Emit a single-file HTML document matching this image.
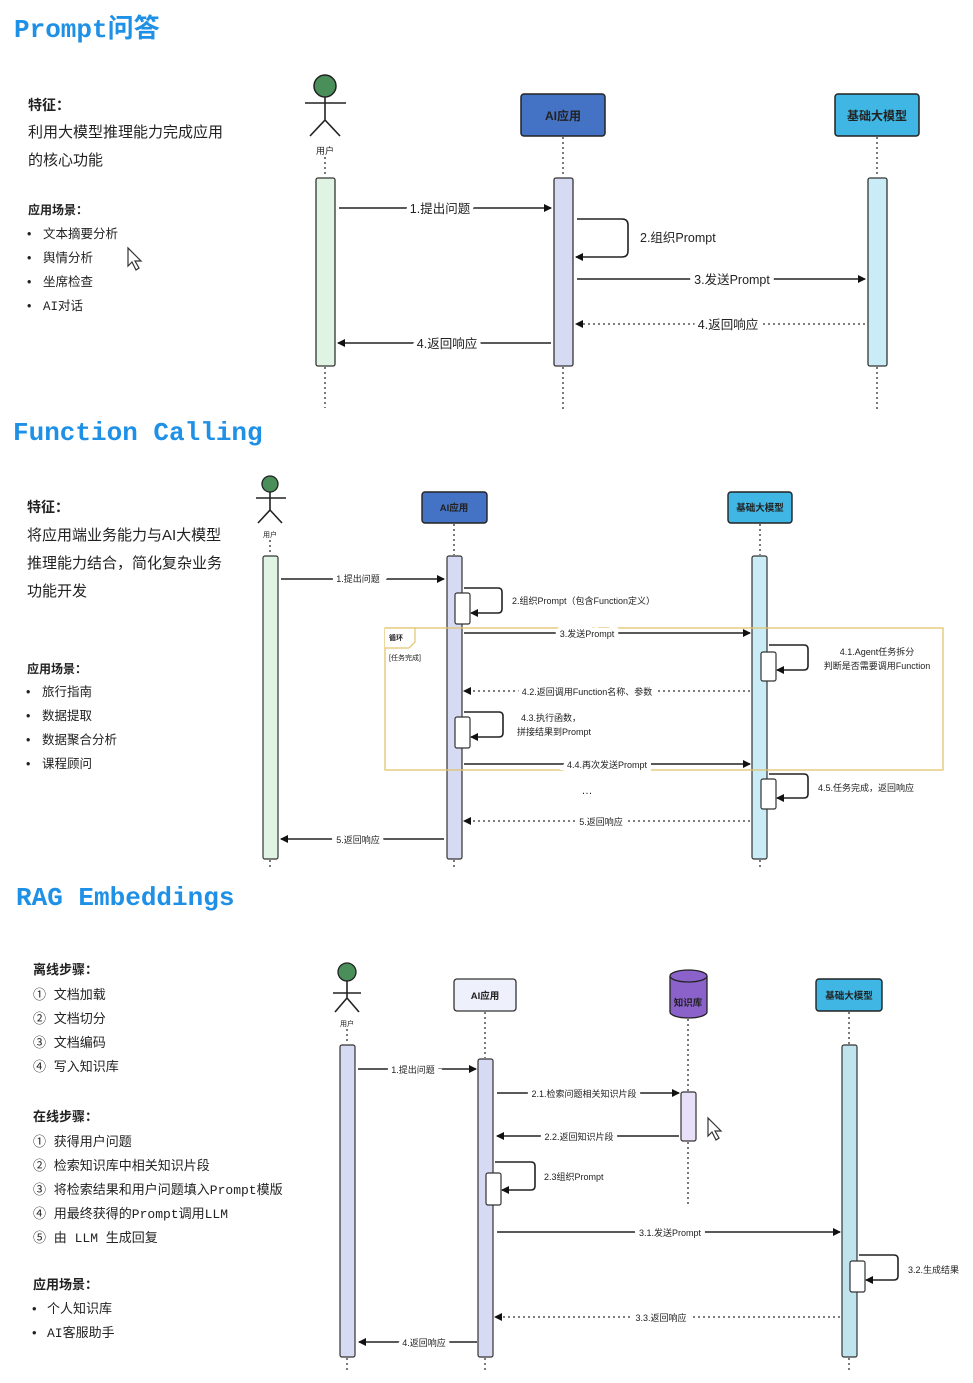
<!DOCTYPE html>
<html><head><meta charset="utf-8"><style>
html,body{margin:0;padding:0;background:#fff;}
svg{display:block;}
text{font-family:"Liberation Sans","Noto Sans CJK SC",sans-serif;fill:#222;}
.t{font-family:"Liberation Mono","Noto Sans CJK SC",monospace;font-weight:bold;fill:#1e90e6;font-size:26px;}
.m{font-family:"Liberation Mono","Noto Sans CJK SC",monospace;}
.lb{paint-order:stroke;stroke:#fff;stroke-width:8px;}
.ln{stroke:#222;stroke-width:1.6;fill:none;}
.dl{stroke:#333;stroke-width:1.3;fill:none;stroke-dasharray:2 3;}
</style></head><body>
<svg width="973" height="1383" viewBox="0 0 973 1383" xmlns="http://www.w3.org/2000/svg">
<defs>
<marker id="a" markerWidth="8" markerHeight="8" refX="7" refY="4" orient="auto" markerUnits="userSpaceOnUse"><path d="M0,0 L8,4 L0,8 z" fill="#111"/></marker>
</defs>

<!-- ===== Section 1 ===== -->
<text class="t" x="14" y="37">Prompt问答</text>
<text x="28" y="110" font-size="14" font-weight="bold">特征：</text>
<text x="28" y="137" font-size="15">利用大模型推理能力完成应用</text>
<text x="28" y="165" font-size="15">的核心功能</text>
<text x="28" y="214" font-size="12" font-weight="bold">应用场景：</text>
<g font-size="12.5">
<text x="27" y="238">•</text><text x="43" y="238">文本摘要分析</text>
<text x="27" y="262">•</text><text x="43" y="262">舆情分析</text>
<text x="27" y="286">•</text><text x="43" y="286">坐席检查</text>
<text x="27" y="310">•</text><text x="43" y="310" class="m">AI对话</text>
</g>
<path d="M128,248 L128,266 L132,262 L136,270 L139,268 L135,261 L141,261 z" fill="#fff" stroke="#333" stroke-width="1.2"/>

<circle cx="325" cy="86" r="11" fill="#4a8f5a" stroke="#222" stroke-width="1.5"/>
<path class="ln" d="M305,103 H346 M325,97 V120 L310,136 M325,120 L340,136"/>
<text x="325" y="154" font-size="9" text-anchor="middle" fill="#444">用户</text>
<path class="dl" d="M325,157 V177 M325,367 V408"/>
<rect x="316" y="178" width="19" height="188" rx="2" fill="#e0f4e4" stroke="#333" stroke-width="1.3"/>

<rect x="521" y="94" width="84" height="42" rx="3" fill="#4472c4" stroke="#222" stroke-width="1.5"/>
<text x="563" y="120" font-size="12" font-weight="bold" text-anchor="middle" fill="#fff">AI应用</text>
<path class="dl" d="M563,137 V177 M563,367 V410"/>
<rect x="554" y="178" width="19" height="188" rx="2" fill="#d6daf2" stroke="#333" stroke-width="1.3"/>

<rect x="835" y="94" width="84" height="42" rx="3" fill="#3fb6e3" stroke="#222" stroke-width="1.5"/>
<text x="877" y="120" font-size="12" font-weight="bold" text-anchor="middle" fill="#fff">基础大模型</text>
<path class="dl" d="M877,137 V177 M877,367 V410"/>
<rect x="868" y="178" width="19" height="188" rx="2" fill="#c9ecf6" stroke="#333" stroke-width="1.3"/>

<path class="ln" d="M339,208 H551" marker-end="url(#a)"/>
<text class="lb" x="440" y="213" font-size="12.5" text-anchor="middle">1.提出问题</text>
<path class="ln" d="M577,219 H622 Q628,219 628,225 V251 Q628,257 622,257 H576" marker-end="url(#a)"/>
<text x="640" y="242" font-size="12.5">2.组织Prompt</text>
<path class="ln" d="M577,279 H865" marker-end="url(#a)"/>
<text class="lb" x="732" y="284" font-size="12.5" text-anchor="middle">3.发送Prompt</text>
<path class="dl" d="M865,324 H576" marker-end="url(#a)" stroke="#111"/>
<text class="lb" x="728" y="329" font-size="12.5" text-anchor="middle">4.返回响应</text>
<path class="ln" d="M551,343 H338" marker-end="url(#a)"/>
<text class="lb" x="447" y="348" font-size="12.5" text-anchor="middle">4.返回响应</text>

<!-- ===== Section 2 ===== -->
<text class="t" x="13" y="440">Function Calling</text>
<text x="27" y="512" font-size="14" font-weight="bold">特征：</text>
<text x="27" y="540" font-size="15">将应用端业务能力与AI大模型</text>
<text x="27" y="568" font-size="15">推理能力结合，简化复杂业务</text>
<text x="27" y="596" font-size="15">功能开发</text>
<text x="27" y="673" font-size="12" font-weight="bold">应用场景：</text>
<g font-size="12.5">
<text x="26" y="696">•</text><text x="42" y="696">旅行指南</text>
<text x="26" y="720">•</text><text x="42" y="720">数据提取</text>
<text x="26" y="744">•</text><text x="42" y="744">数据聚合分析</text>
<text x="26" y="768">•</text><text x="42" y="768">课程顾问</text>
</g>

<circle cx="270" cy="484" r="8" fill="#4a8f5a" stroke="#222" stroke-width="1.3"/>
<path class="ln" d="M256,498 H286 M270,492 V510 L258,523 M270,510 L282,523"/>
<text x="270" y="537" font-size="7" text-anchor="middle" fill="#444">用户</text>
<path class="dl" d="M270,540 V555 M270,860 V870"/>
<rect x="263" y="556" width="15" height="303" rx="2" fill="#e0f4e4" stroke="#333" stroke-width="1.2"/>

<rect x="422" y="492" width="65" height="31" rx="3" fill="#4472c4" stroke="#222" stroke-width="1.4"/>
<text x="454" y="511" font-size="9.5" font-weight="bold" text-anchor="middle" fill="#fff">AI应用</text>
<path class="dl" d="M454,524 V555 M454,860 V870"/>
<rect x="447" y="556" width="15" height="303" rx="2" fill="#d6daf2" stroke="#333" stroke-width="1.2"/>

<rect x="728" y="492" width="64" height="31" rx="3" fill="#3fb6e3" stroke="#222" stroke-width="1.4"/>
<text x="760" y="511" font-size="9.5" font-weight="bold" text-anchor="middle" fill="#fff">基础大模型</text>
<path class="dl" d="M760,524 V555 M760,860 V870"/>
<rect x="752" y="556" width="15" height="303" rx="2" fill="#c9ecf6" stroke="#333" stroke-width="1.2"/>

<rect x="385" y="628" width="558" height="142" fill="none" stroke="#e3c36e" stroke-width="1.3"/>
<path d="M385,628 H415 V642 L409,648 H385" fill="#fff" stroke="#e3c36e" stroke-width="1.2"/>
<text x="389" y="640" font-size="7" font-weight="bold">循环</text>
<text x="389" y="660" font-size="7" fill="#555">[任务完成]</text>

<g font-size="9">
<path class="ln" d="M281,579 H444" marker-end="url(#a)" stroke-width="1.3"/>
<text class="lb" x="358" y="582" text-anchor="middle">1.提出问题</text>
<path class="ln" d="M464,588 H498 Q502,588 502,592 V609 Q502,613 498,613 H471" marker-end="url(#a)" stroke-width="1.3"/>
<rect x="455" y="593" width="15" height="31" rx="2" fill="#fff" stroke="#333" stroke-width="1.2"/>
<text x="512" y="604">2.组织Prompt（包含Function定义）</text>

<path class="ln" d="M464,633 H750" marker-end="url(#a)" stroke-width="1.3"/>
<text class="lb" x="587" y="637" text-anchor="middle">3.发送Prompt</text>

<path class="ln" d="M769,645 H804 Q808,645 808,649 V666 Q808,670 804,670 H777" marker-end="url(#a)" stroke-width="1.3"/>
<rect x="761" y="652" width="15" height="29" rx="2" fill="#fff" stroke="#333" stroke-width="1.2"/>
<text x="877" y="655" text-anchor="middle">4.1.Agent任务拆分</text>
<text x="877" y="669" text-anchor="middle">判断是否需要调用Function</text>

<path class="dl" d="M750,691 H464" marker-end="url(#a)" stroke="#111"/>
<text class="lb" x="587" y="695" text-anchor="middle">4.2.返回调用Function名称、参数</text>

<path class="ln" d="M464,712 H499 Q503,712 503,716 V733 Q503,737 499,737 H471" marker-end="url(#a)" stroke-width="1.3"/>
<rect x="455" y="717" width="15" height="31" rx="2" fill="#fff" stroke="#333" stroke-width="1.2"/>
<text x="551" y="721" text-anchor="middle">4.3.执行函数，</text>
<text x="554" y="735" text-anchor="middle">拼接结果到Prompt</text>

<path class="ln" d="M464,764 H750" marker-end="url(#a)" stroke-width="1.3"/>
<text class="lb" x="607" y="768" text-anchor="middle">4.4.再次发送Prompt</text>

<path class="ln" d="M769,774 H804 Q808,774 808,778 V794 Q808,798 804,798 H777" marker-end="url(#a)" stroke-width="1.3"/>
<rect x="761" y="779" width="15" height="30" rx="2" fill="#fff" stroke="#333" stroke-width="1.2"/>
<text x="818" y="791">4.5.任务完成，返回响应</text>
<text x="587" y="794" text-anchor="middle" font-size="11">…</text>

<path class="dl" d="M750,821 H464" marker-end="url(#a)" stroke="#111"/>
<text class="lb" x="601" y="825" text-anchor="middle">5.返回响应</text>
<path class="ln" d="M444,839 H281" marker-end="url(#a)" stroke-width="1.3"/>
<text class="lb" x="358" y="843" text-anchor="middle">5.返回响应</text>
</g>

<!-- ===== Section 3 ===== -->
<text class="t" x="16" y="905">RAG Embeddings</text>
<text x="33" y="974" font-size="13" font-weight="bold">离线步骤：</text>
<g font-size="13">
<text x="33" y="999" class="m">①  文档加载</text>
<text x="33" y="1023" class="m">②  文档切分</text>
<text x="33" y="1047" class="m">③  文档编码</text>
<text x="33" y="1071" class="m">④  写入知识库</text>
</g>
<text x="33" y="1121" font-size="13" font-weight="bold">在线步骤：</text>
<g font-size="13">
<text x="33" y="1146" class="m">①  获得用户问题</text>
<text x="33" y="1170" class="m">②  检索知识库中相关知识片段</text>
<text x="33" y="1194" class="m">③  将检索结果和用户问题填入Prompt模版</text>
<text x="33" y="1218" class="m">④  用最终获得的Prompt调用LLM</text>
<text x="33" y="1242" class="m">⑤  由 LLM 生成回复</text>
</g>
<text x="33" y="1289" font-size="13" font-weight="bold">应用场景：</text>
<g font-size="13">
<text x="32" y="1313">•</text><text x="47" y="1313" class="m">个人知识库</text>
<text x="32" y="1337">•</text><text x="47" y="1337" class="m">AI客服助手</text>
</g>

<circle cx="347" cy="972" r="9" fill="#4a8f5a" stroke="#222" stroke-width="1.3"/>
<path class="ln" d="M333,993 H361 M347,981 V998 L335,1012 M347,998 L359,1012"/>
<text x="347" y="1026" font-size="7" text-anchor="middle" fill="#444">用户</text>
<path class="dl" d="M347,1029 V1044 M347,1358 V1372"/>
<rect x="340" y="1045" width="15" height="312" rx="2" fill="#d6daf2" stroke="#333" stroke-width="1.2"/>

<rect x="454" y="979" width="62" height="32" rx="3" fill="#eef0fb" stroke="#333" stroke-width="1.3"/>
<text x="485" y="999" font-size="9.5" font-weight="bold" text-anchor="middle">AI应用</text>
<path class="dl" d="M485,1012 V1058 M485,1358 V1372"/>
<rect x="478" y="1059" width="15" height="298" rx="2" fill="#d6daf2" stroke="#333" stroke-width="1.2"/>

<path d="M670,976 V1012 A18.5,6 0 0 0 707,1012 V976" fill="#8b62c9" stroke="#222" stroke-width="1.3"/>
<ellipse cx="688.5" cy="976" rx="18.5" ry="6" fill="#8b62c9" stroke="#222" stroke-width="1.3"/>
<text x="688" y="1006" font-size="9.5" font-weight="bold" text-anchor="middle" fill="#fff">知识库</text>
<path class="dl" d="M688,1019 V1091 M688,1142 V1205"/>
<rect x="681" y="1092" width="15" height="49" rx="2" fill="#e8e0f8" stroke="#333" stroke-width="1.2"/>
<path d="M708,1118 L708,1136 L712,1132 L716,1140 L719,1138 L715,1131 L721,1131 z" fill="#fff" stroke="#333" stroke-width="1.2"/>

<rect x="816" y="979" width="66" height="32" rx="3" fill="#3fb6e3" stroke="#222" stroke-width="1.4"/>
<text x="849" y="999" font-size="9.5" font-weight="bold" text-anchor="middle" fill="#fff">基础大模型</text>
<path class="dl" d="M849,1012 V1044 M849,1358 V1372"/>
<rect x="842" y="1045" width="15" height="312" rx="2" fill="#bfe4ee" stroke="#333" stroke-width="1.2"/>

<g font-size="9">
<path class="ln" d="M358,1069 H476" marker-end="url(#a)" stroke-width="1.3"/>
<text class="lb" x="413" y="1073" text-anchor="middle">1.提出问题</text>
<path class="ln" d="M497,1093 H679" marker-end="url(#a)" stroke-width="1.3"/>
<text class="lb" x="584" y="1097" text-anchor="middle">2.1.检索问题相关知识片段</text>
<path class="ln" d="M679,1136 H497" marker-end="url(#a)" stroke-width="1.3"/>
<text class="lb" x="579" y="1140" text-anchor="middle">2.2.返回知识片段</text>
<path class="ln" d="M495,1162 H531 Q535,1162 535,1166 V1186 Q535,1190 531,1190 H502" marker-end="url(#a)" stroke-width="1.3"/>
<rect x="486" y="1173" width="15" height="32" rx="2" fill="#fff" stroke="#333" stroke-width="1.2"/>
<text x="544" y="1180">2.3组织Prompt</text>
<path class="ln" d="M497,1232 H840" marker-end="url(#a)" stroke-width="1.3"/>
<text class="lb" x="670" y="1236" text-anchor="middle">3.1.发送Prompt</text>
<path class="ln" d="M859,1255 H894 Q898,1255 898,1259 V1276 Q898,1280 894,1280 H866" marker-end="url(#a)" stroke-width="1.3"/>
<rect x="850" y="1261" width="15" height="31" rx="2" fill="#fff" stroke="#333" stroke-width="1.2"/>
<text x="908" y="1273">3.2.生成结果</text>
<path class="dl" d="M840,1317 H495" marker-end="url(#a)" stroke="#111"/>
<text class="lb" x="661" y="1321" text-anchor="middle">3.3.返回响应</text>
<path class="ln" d="M477,1342 H359" marker-end="url(#a)" stroke-width="1.3"/>
<text class="lb" x="424" y="1346" text-anchor="middle">4.返回响应</text>
</g>
</svg>
</body></html>
